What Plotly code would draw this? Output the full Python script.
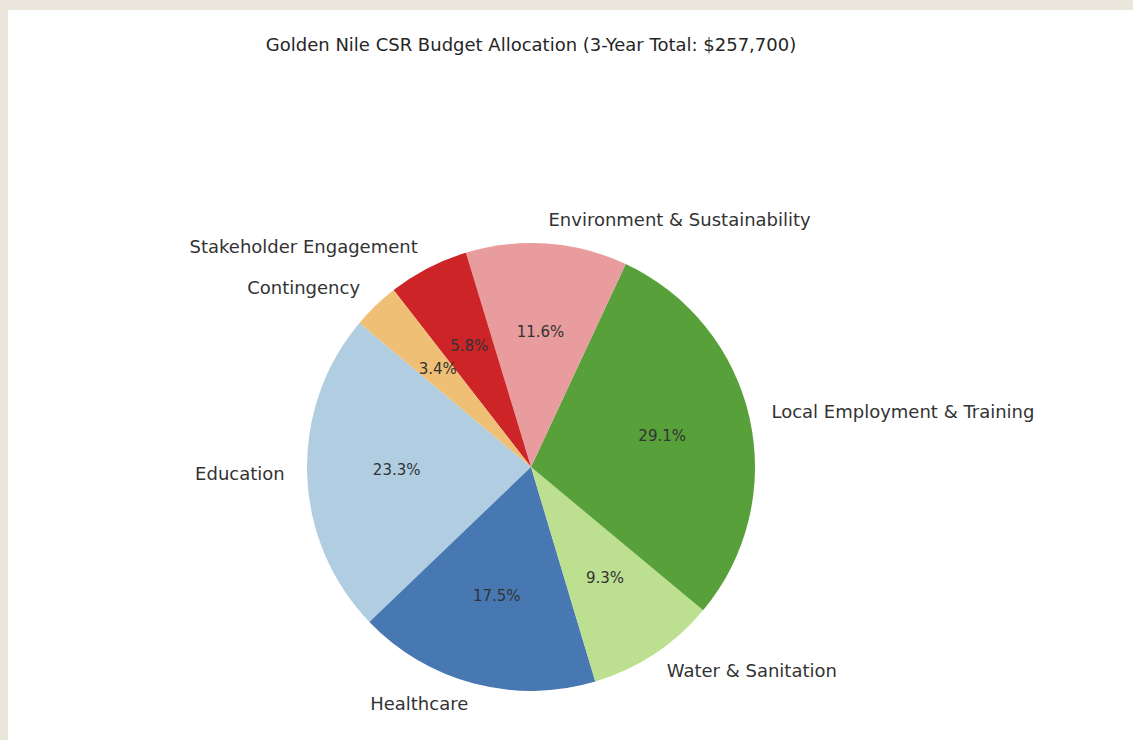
import numpy as np
import plotly.graph_objects as go

# CSR budget over three years (USD)
categories = [
    "Education",
    "Healthcare",
    "Water & Sanitation",
    "Local Employment & Training",
    "Environment & Sustainability",
    "Stakeholder Engagement",
    "Contingency",
]
budget = [60000, 45000, 24000, 75000, 30000, 15000, 8700]
slice_colors = ["#b0cde2", "#4878b2", "#bcdf90", "#58a03a", "#e89c9e", "#cd2428", "#efbf75"]

total = sum(budget)
title_text = f"Golden Nile CSR Budget Allocation (3-Year Total: ${total:,})"

W, H = 1133, 740
cx, cy, r = 531, 467, 224          # pie centre and radius in pixels
start_angle = 140                  # first wedge starts here (deg, ccw from 3 o'clock)
pct_distance = 0.6                 # percentages at this fraction of the radius
label_distance = 1.1               # category names at this fraction of the radius

# wedge geometry derived from the budget shares
shares = np.asarray(budget, dtype=float) / total
slice_deg = shares * 360
mid_deg = np.cumsum(slice_deg) - slice_deg / 2
label_side = ["middle right" if np.cos(np.radians(start_angle + m)) > 0 else "middle left"
              for m in mid_deg]

# the polar area extends to the label ring so the names stay inside its range
outer = r * label_distance

fig = go.Figure()

# wedges as unit-radius polar bars
fig.add_trace(go.Barpolar(
    r=[1] * len(categories),
    theta=mid_deg,
    width=slice_deg,
    marker=dict(color=slice_colors, line=dict(width=0)),
    customdata=np.column_stack([budget, shares * 100]),
    text=categories,
    hovertemplate="%{text}<br>$%{customdata[0]:,.0f} (%{customdata[1]:.1f}%)<extra></extra>",
    showlegend=False,
))

# percentage inside each wedge
fig.add_trace(go.Scatterpolar(
    r=[pct_distance] * len(categories),
    theta=mid_deg,
    mode="text",
    text=[f"{s:.1%}" for s in shares],
    textposition="middle center",
    textfont=dict(family="DejaVu Sans", size=15, color="#333333"),
    cliponaxis=False,
    showlegend=False,
    hoverinfo="skip",
))

# category names outside the pie
fig.add_trace(go.Scatterpolar(
    r=[label_distance] * len(categories),
    theta=mid_deg,
    mode="text",
    text=categories,
    textposition=label_side,
    textfont=dict(family="DejaVu Sans", size=18, color="#333333"),
    cliponaxis=False,
    showlegend=False,
    hoverinfo="skip",
))

fig.update_layout(
    width=W,
    height=H,
    margin=dict(l=0, r=0, t=0, b=0),
    paper_bgcolor="#ebe6dc",
    polar=dict(
        domain=dict(
            x=[(cx - outer) / W, (cx + outer) / W],
            y=[(H - cy - outer) / H, (H - cy + outer) / H],
        ),
        bgcolor="rgba(0,0,0,0)",
        bargap=0,
        radialaxis=dict(range=[0, label_distance], visible=False),
        angularaxis=dict(rotation=start_angle, direction="counterclockwise", visible=False),
    ),
    title=dict(
        text=title_text,
        x=531 / W,
        xanchor="center",
        y=1 - 45 / H,
        yanchor="middle",
        font=dict(family="DejaVu Sans", size=18, color="#262626"),
    ),
    shapes=[dict(
        type="rect", xref="paper", yref="paper",
        x0=8 / W, x1=1.0, y0=0.0, y1=1 - 10 / H,
        fillcolor="white", line=dict(width=0), layer="below",
    )],
)

fig.write_html("out.html")
